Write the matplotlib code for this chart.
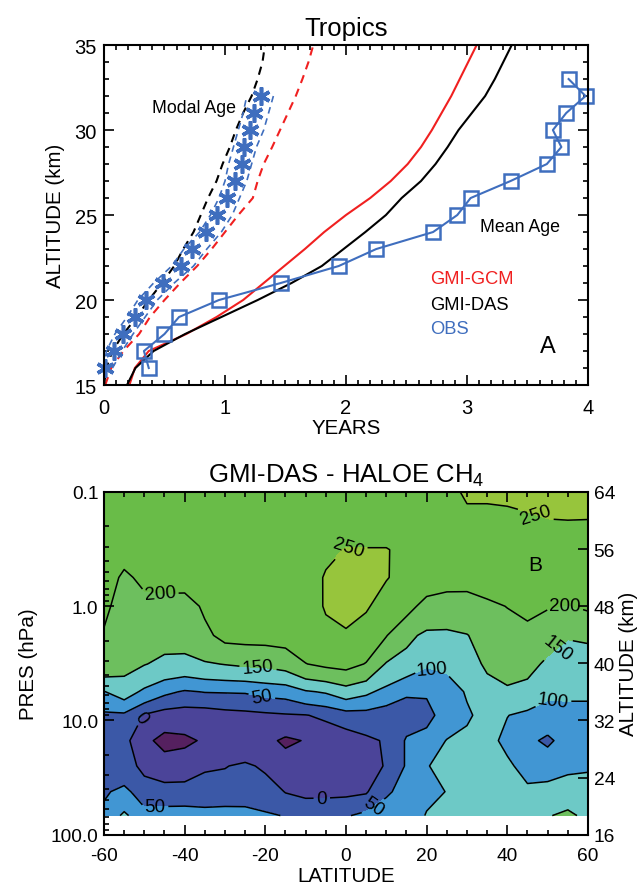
import numpy as np
import matplotlib
matplotlib.use('Agg')
import matplotlib.pyplot as plt
from matplotlib.ticker import MultipleLocator, FixedLocator, FixedFormatter, LogLocator, NullFormatter, NullLocator

plt.rcParams['font.family'] = ['Liberation Sans', 'DejaVu Sans']
plt.rcParams['mathtext.fontset'] = 'custom'
plt.rcParams['mathtext.rm'] = 'Liberation Sans'
plt.rcParams['mathtext.it'] = 'Liberation Sans'
plt.rcParams['axes.unicode_minus'] = False

# ---------------- Panel A data (Tropics) ----------------
obs_mean_alt = [16, 17, 18, 19, 20, 21, 22, 23, 24, 25, 26, 27, 28, 29, 30, 31, 32, 33]
obs_mean_age = [0.37, 0.33, 0.50, 0.62, 0.95, 1.46, 1.94, 2.25, 2.72, 2.92, 3.03, 3.36,
                3.66, 3.78, 3.71, 3.82, 3.98, 3.84]

obs_modal_alt = [16, 17, 18, 19, 20, 21, 22, 23, 24, 25, 26, 27, 28, 29, 30, 31, 32]
obs_modal_age = [0.01, 0.08, 0.16, 0.26, 0.35, 0.49, 0.64, 0.73, 0.84, 0.93, 1.02, 1.08,
                 1.14, 1.16, 1.21, 1.24, 1.30]
obs_modal_lo = [0.00, 0.02, 0.09, 0.19, 0.28, 0.41, 0.56, 0.66, 0.79, 0.88, 0.95, 1.00,
                1.03, 1.07, 1.11, 1.15, 1.18]
obs_modal_hi = [0.07, 0.15, 0.24, 0.34, 0.44, 0.58, 0.74, 0.85, 0.97, 1.06, 1.12, 1.18,
                1.22, 1.26, 1.32, 1.36, 1.40]

model_alt = [15, 16, 17, 18, 19, 20, 21, 22, 23, 24, 25, 26, 27, 28, 29, 30, 31, 32, 33, 34, 35]
gcm_mean_age = [0.21, 0.255, 0.37, 0.68, 0.93, 1.15, 1.32, 1.49, 1.66, 1.82, 2.00, 2.20,
                2.37, 2.51, 2.62, 2.71, 2.79, 2.87, 2.94, 3.01, 3.08]
das_mean_age = [0.19, 0.26, 0.41, 0.67, 0.97, 1.27, 1.55, 1.80, 1.98, 2.16, 2.33, 2.46,
                2.62, 2.74, 2.84, 2.93, 3.04, 3.15, 3.23, 3.30, 3.37]
gcm_modal_age = [0.01, 0.06, 0.16, 0.29, 0.38, 0.50, 0.63, 0.77, 0.89, 1.00, 1.11, 1.23,
                 1.27, 1.32, 1.39, 1.455, 1.52, 1.585, 1.64, 1.69, 1.73]
das_modal_age = [0.00, 0.02, 0.07, 0.16, 0.27, 0.37, 0.48, 0.58, 0.655, 0.74, 0.80, 0.86,
                 0.93, 0.98, 1.04, 1.09, 1.15, 1.22, 1.27, 1.31, 1.33]

# ---------------- Panel B data (GMI-DAS - HALOE CH4) ----------------
lats = [-60, -55, -50, -45, -40, -35, -30, -25, -20, -15, -10, -5, 0,
        5, 10, 15, 20, 25, 30, 35, 40, 45, 50, 55, 60]
pres = [0.1, 0.18, 0.32, 0.56, 1.0, 1.8, 3.2, 5.6, 9.0, 15.0, 25.0, 42.0, 68.0]
# one row per latitude, values at each pressure level (top -> bottom)
diff_by_lat = [
    [235, 232, 228, 222, 210, 195, 185, 98, 40, 25, 30, 45, 60],
    [235, 232, 215, 192, 180, 170, 165, 125, 40, 15, 25, 60, 110],
    [236, 233, 228, 210, 185, 168, 152, 90, -5, -38, -15, 30, 65],
    [238, 235, 228, 215, 184, 165, 140, 61, -25, -65, -25, 18, 75],
    [240, 236, 230, 214, 184, 170, 135, 45, -30, -58, -25, 20, 75],
    [240, 238, 232, 222, 206, 190, 145, 52, -30, -45, -5, 20, 70],
    [242, 240, 236, 230, 222, 213, 152, 53, -20, -40, -2, 22, 72],
    [243, 242, 238, 232, 224, 215, 158, 54, -15, -38, 8, 30, 65],
    [244, 243, 240, 234, 226, 216, 160, 65, -10, -35, -8, 25, 56],
    [245, 244, 241, 236, 229, 218, 170, 70, -5, -60, -20, -2, 48],
    [245, 245, 243, 239, 233, 222, 199, 95, -2, -47, -35, -12, 40],
    [245, 244, 246, 252, 253, 240, 210, 105, 10, -40, -32, -10, 35],
    [245, 240, 251, 262, 262, 245, 215, 128, 28, -30, -30, -10, 45],
    [246, 240, 251, 262, 255, 225, 198, 110, 30, -10, -25, -5, 65],
    [246, 240, 251, 252, 230, 202, 146, 85, 20, 5, 5, 45, 70],
    [246, 245, 245, 238, 215, 162, 130, 55, 30, 55, 55, 62, 72],
    [247, 248, 244, 222, 185, 140, 105, 55, 35, 70, 97, 90, 103],
    [248, 247, 240, 215, 180, 140, 110, 75, 72, 102, 118, 101, 110],
    [251, 248, 238, 213, 182, 148, 135, 105, 92, 115, 125, 123, 118],
    [255, 240, 235, 218, 192, 172, 156, 135, 120, 115, 122, 130, 132],
    [255, 243, 235, 222, 201, 180, 163, 145, 101, 88, 110, 120, 125],
    [258, 245, 240, 230, 210, 187, 168, 130, 90, 62, 80, 112, 125],
    [268, 248, 238, 225, 203, 170, 140, 110, 78, 40, 88, 110, 147],
    [272, 249, 240, 228, 198, 152, 135, 108, 85, 72, 90, 125, 160],
    [275, 248, 241, 230, 207, 153, 140, 108, 85, 75, 95, 120, 138],
]
fill_levels = [-300, -50, 0, 50, 100, 150, 200, 250, 400]
unlabeled_levels = [-50]
label_levels = [0, 50, 100, 150, 200, 250]
alt_ticks = [16, 24, 32, 40, 48, 56, 64]

RED = '#F02020'
BLUE = '#3F6EBE'
fill_colors = ['#55205F', '#4B4499', '#3B58A7', '#4196D3', '#6DC9C6',
               '#6DBF5E', '#69BC48', '#97C53C']

fig = plt.figure(figsize=(6.38, 8.87), dpi=100)
axA = fig.add_axes([0.163, 0.5648, 0.7586, 0.3833])
axB = fig.add_axes([0.163, 0.0578, 0.7586, 0.3864])

TICK_FS = 14.5
LAB_FS = 14.8

# ---------------- Panel A ----------------
dash = (0, (4, 3))
axA.plot(gcm_mean_age, model_alt, color=RED, lw=1.5)
axA.plot(das_mean_age, model_alt, color='black', lw=1.5)
axA.plot(gcm_modal_age, model_alt, color=RED, lw=1.5, ls=dash)
axA.plot(das_modal_age, model_alt, color='black', lw=1.5, ls=dash)
axA.plot(obs_modal_lo, obs_modal_alt, color=BLUE, lw=1.2, ls=dash)
axA.plot(obs_modal_hi, obs_modal_alt, color=BLUE, lw=1.2, ls=dash)
axA.plot(obs_modal_age, obs_modal_alt, ls='none', marker=(6, 2, 0), ms=13, mew=2.6,
         color=BLUE, clip_on=False)
axA.plot(obs_mean_age, obs_mean_alt, color=BLUE, lw=1.5, marker='s', ms=10,
         mfc='none', mew=1.8, clip_on=False)

axA.set_xlim(0, 4)
axA.set_ylim(15, 35)
axA.xaxis.set_major_locator(MultipleLocator(1))
axA.xaxis.set_minor_locator(MultipleLocator(0.1))
axA.yaxis.set_major_locator(MultipleLocator(5))
axA.yaxis.set_minor_locator(MultipleLocator(1))
axA.tick_params(which='both', direction='in', top=True, right=True, labelsize=TICK_FS, width=1.2)
axA.tick_params(which='major', length=7)
axA.tick_params(which='minor', length=3.5)
axA.tick_params(axis='x', pad=9)
axA.tick_params(axis='y', pad=5)
for s in axA.spines.values():
    s.set_linewidth(1.5)
axA.set_title('Tropics', fontsize=18.5, pad=7)
axA.set_xlabel('YEARS', fontsize=LAB_FS, labelpad=1)
axA.set_ylabel('ALTITUDE (km)', fontsize=LAB_FS, labelpad=7)

axA.text(0.40, 31.35, 'Modal Age', fontsize=12.8, ha='left', va='center')
axA.text(3.107, 24.3, 'Mean Age', fontsize=12.8, ha='left', va='center')
axA.text(2.694, 21.24, 'GMI-GCM', fontsize=13.2, color=RED, ha='left', va='center')
axA.text(2.694, 19.76, 'GMI-DAS', fontsize=13.2, color='black', ha='left', va='center')
axA.text(2.694, 18.3, 'OBS', fontsize=13.2, color=BLUE, ha='left', va='center')
axA.text(3.67, 17.3, 'A', fontsize=17, ha='center', va='center')

# ---------------- Panel B ----------------
Z = np.array(diff_by_lat, dtype=float).T
axB.set_yscale('log')
axB.contourf(lats, pres, Z, levels=fill_levels, colors=fill_colors)
axB.contour(lats, pres, Z, levels=unlabeled_levels, colors='black', linewidths=1.1,
            linestyles='solid')
cs = axB.contour(lats, pres, Z, levels=label_levels, colors='black', linewidths=1.1,
                 linestyles='solid')
label_pos = [(48.1, 0.127), (0.7, 0.33), (-46.1, 0.75), (54.3, 0.96),
             (-21.8, 3.4), (51.1, 2.06), (21.6, 3.4), (51.3, 6.1),
             (-20.6, 5.6), (-47.4, 54.0), (6.7, 56.0), (-51.6, 9.1), (-6.0, 48.8)]
axB.clabel(cs, manual=label_pos, fmt='%d', fontsize=13.5, inline=True, inline_spacing=3)

axB.set_xlim(-60, 60)
axB.set_ylim(100, 0.1)
axB.xaxis.set_major_locator(MultipleLocator(20))
axB.xaxis.set_minor_locator(MultipleLocator(5))
axB.yaxis.set_major_locator(FixedLocator([0.1, 1.0, 10.0, 100.0]))
axB.yaxis.set_major_formatter(FixedFormatter(['0.1', '1.0', '10.0', '100.0']))
axB.yaxis.set_minor_locator(LogLocator(base=10, subs=range(2, 10)))
axB.yaxis.set_minor_formatter(NullFormatter())
axB.tick_params(which='both', direction='in', top=True, right=True, labelsize=13.8, width=1.2)
axB.tick_params(which='major', length=7)
axB.tick_params(which='minor', length=3.5)
axB.tick_params(axis='x', pad=9)
axB.tick_params(axis='y', pad=4)
for s in axB.spines.values():
    s.set_linewidth(1.5)
axB.set_title('GMI-DAS - HALOE CH$_4$', fontsize=18.5, pad=7)
axB.set_xlabel('LATITUDE', fontsize=LAB_FS, labelpad=1)
axB.set_ylabel('PRES (hPa)', fontsize=LAB_FS, labelpad=9)
axB.text(46.9, 0.435, 'B', fontsize=15, ha='center', va='center')

axR = axB.twinx()
axR.set_yscale('log')
axR.set_ylim(100, 0.1)
axR.yaxis.set_major_locator(FixedLocator([1000.0 * 10 ** (-z / 16.0) for z in alt_ticks]))
axR.yaxis.set_major_formatter(FixedFormatter([str(z) for z in alt_ticks]))
axR.yaxis.set_minor_locator(NullLocator())
axR.tick_params(which='major', direction='in', length=7, width=1.2, labelsize=13.8, pad=4)
axR.set_ylabel('ALTITUDE (km)', fontsize=LAB_FS, labelpad=3)
for s in axR.spines.values():
    s.set_visible(False)

fig.savefig('out.png', dpi=100)
